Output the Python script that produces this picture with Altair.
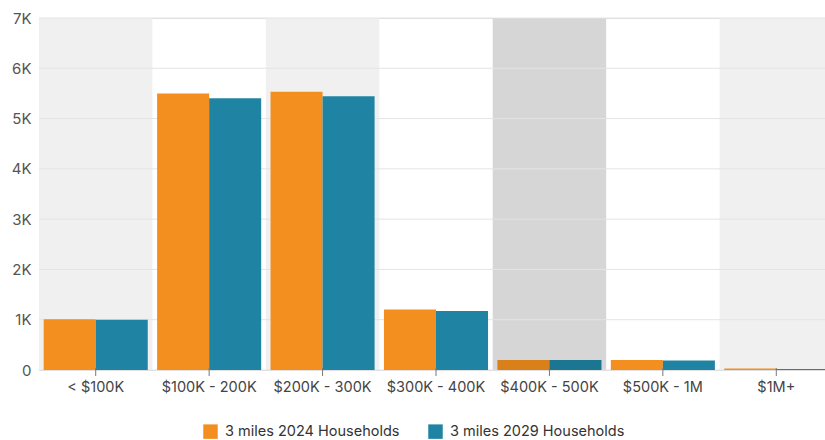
import altair as alt
import pandas as pd

categories = ["< $100K", "$100K - 200K", "$200K - 300K", "$300K - 400K",
              "$400K - 500K", "$500K - 1M", "$1M+"]
series_names = ["3 miles 2024 Households", "3 miles 2029 Households"]
values_2024 = [1010, 5500, 5535, 1205, 200, 200, 30]
values_2029 = [1000, 5405, 5445, 1175, 200, 190, 22]
band_shade = ["light", "none", "light", "none", "hover", "none", "light"]
y_ticks = [0, 1000, 2000, 3000, 4000, 5000, 6000, 7000]

rows = []
for c, a, b, s in zip(categories, values_2024, values_2029, band_shade):
    hov = "hover" if s == "hover" else "normal"
    rows.append({"cat": c, "series": series_names[0], "value": a, "state": hov})
    rows.append({"cat": c, "series": series_names[1], "value": b, "state": hov})
bars_df = pd.DataFrame(rows)
bands_df = pd.DataFrame({"cat": categories, "shade": band_shade})
grid_df = pd.DataFrame({"v": y_ticks})

FONT = "Inter"
W, H = 786, 352

xscale = alt.Scale(domain=categories, range=[0, 794], paddingInner=0, paddingOuter=0)
yscale = alt.Scale(domain=[0, 7000], nice=False)
xaxis = alt.Axis(labelFont=FONT, labelFontSize=14.5, labelColor="#444",
                 labelAngle=0, labelAlign="center", labelBaseline="top",
                 labelPadding=10, ticks=False, domain=False, grid=False, labelLimit=0)
offscale = alt.Scale(paddingInner=0, paddingOuter=0.09)

bands = alt.Chart(bands_df).transform_filter("datum.shade != 'none'").mark_rect().encode(
    x=alt.X("cat:N", scale=xscale, sort=categories, title=None, axis=xaxis),
    y=alt.value(0),
    y2=alt.value(H),
    color=alt.Color("shade:N", scale=alt.Scale(domain=["light", "hover"],
                                                range=["#f0f0f0", "#d6d6d6"]),
                    legend=None),
)

grid = alt.Chart(grid_df).mark_rule(color="#e4e4e4", strokeWidth=1).encode(
    y=alt.Y("v:Q", scale=yscale,
            axis=alt.Axis(values=y_ticks, grid=False, domain=False, ticks=False,
                          labelFont=FONT, labelFontSize=15, labelColor="#555",
                          labelPadding=8, title=None,
                          labelExpr="datum.value == 0 ? '0' : (datum.value / 1000) + 'K'")),
)

bars = alt.Chart(bars_df).mark_bar().encode(
    x=alt.X("cat:N", scale=xscale, sort=categories, title=None, axis=xaxis),
    xOffset=alt.XOffset("series:N", sort=series_names, scale=offscale),
    y=alt.Y("value:Q", scale=yscale, title=None),
    color=alt.Color("series:N", sort=series_names,
                    scale=alt.Scale(domain=series_names, range=["#f28f1e", "#1f84a3"]),
                    legend=alt.Legend(title=None, orient="none", direction="horizontal",
                                      legendX=164, legendY=406,
                                      symbolType="square", symbolSize=210,
                                      symbolStrokeWidth=0, labelFont=FONT,
                                      labelFontSize=14.5, labelColor="#333",
                                      labelLimit=0, labelOffset=7, columnPadding=28)),
)

hover_bars = alt.Chart(bars_df).transform_filter("datum.state == 'hover'").mark_bar(
    color="#000000", opacity=0.1).encode(
    x=alt.X("cat:N", scale=xscale, sort=categories, title=None, axis=xaxis),
    xOffset=alt.XOffset("series:N", sort=series_names, scale=offscale),
    y=alt.Y("value:Q", scale=yscale),
)

ticks = alt.Chart(bands_df).mark_rule(color="#777", strokeWidth=1).encode(
    x=alt.X("cat:N", scale=xscale, sort=categories, title=None, axis=xaxis),
    y=alt.value(H - 2),
    y2=alt.value(H + 6),
)

chart = alt.layer(bands, grid, bars, hover_bars, ticks).resolve_scale(color="independent").properties(
    width=W, height=H,
    autosize=alt.AutoSizeParams(type="none"),
    padding={"left": 39, "top": 18, "right": 0, "bottom": 70},
).configure_view(stroke=None).configure(background="white")

chart.save("out.html", embed_options={"renderer": "svg", "actions": False})
